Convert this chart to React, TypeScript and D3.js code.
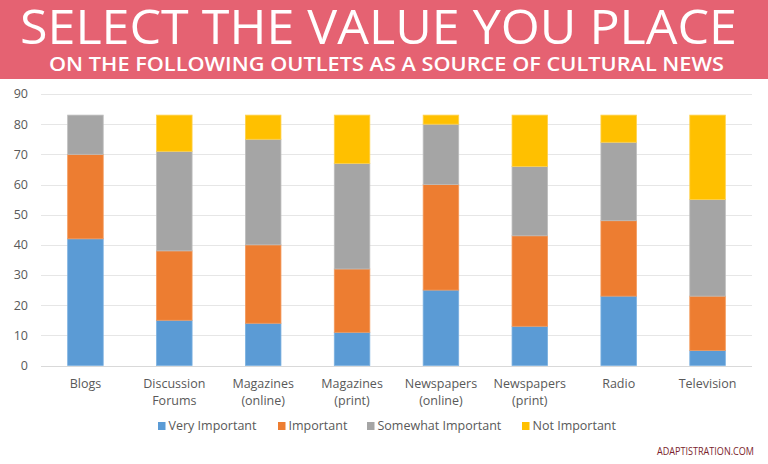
import React from "react";
import * as d3 from "d3";

const categories: string[][] = [
  ["Blogs"],
  ["Discussion", "Forums"],
  ["Magazines", "(online)"],
  ["Magazines", "(print)"],
  ["Newspapers", "(online)"],
  ["Newspapers", "(print)"],
  ["Radio"],
  ["Television"],
];
const seriesNames = ["Very Important", "Important", "Somewhat Important", "Not Important"];
const veryImportant = [42, 15, 14, 11, 25, 13, 23, 5];
const important = [28, 23, 26, 21, 35, 30, 25, 18];
const somewhatImportant = [13, 33, 35, 35, 20, 23, 26, 32];
const notImportant = [0, 12, 8, 16, 3, 17, 9, 28];
const yTicks = [0, 10, 20, 30, 40, 50, 60, 70, 80, 90];
const titleText = "SELECT THE VALUE YOU PLACE";
const subtitleText = "ON THE FOLLOWING OUTLETS AS A SOURCE OF CULTURAL NEWS";
const watermark = "ADAPTISTRATION.COM";

const colors = ["#5b9bd5", "#ed7d31", "#a5a5a5", "#ffc000"];
const edgeColors = ["#7cb1e0", "#f39a5c", "#bdbdbd", "#ffd24d"];
const W = 768;
const H = 464;
const font = "'Open Sans', 'Noto Sans', sans-serif";
const textGray = "#595959";

export default function App() {
  const keys = ["v", "i", "s", "n"];
  const rows = categories.map((c, i) => ({
    key: c.join(" "),
    v: veryImportant[i],
    i: important[i],
    s: somewhatImportant[i],
    n: notImportant[i],
  }));
  const stack = d3.stack<any>().keys(keys)(rows);

  const x = d3
    .scaleBand<string>()
    .domain(rows.map((r) => r.key))
    .range([41, 752])
    .paddingInner(0.6)
    .paddingOuter(0.3);
  const y = d3.scaleLinear().domain([0, 90]).range([365.5, 94]);

  const legendX = [158, 278, 367, 522];

  return (
    <svg
      width={W}
      height={H}
      style={{ position: "fixed", left: 0, top: 0, display: "block", background: "#fff" }}
    >
      {/* Header band */}
      <rect x={0} y={0} width={W} height={79} fill="#e56272" />
      <text
        x={20}
        y={43.5}
        fill="#fff"
        fontFamily={font}
        fontSize={47.5}
        fontWeight={400}
        textLength={717}
        lengthAdjust="spacingAndGlyphs"
      >
        {titleText}
      </text>
      <text
        x={49}
        y={70.7}
        fill="#fff"
        fontFamily={font}
        fontSize={19.5}
        fontWeight={600}
        textLength={675}
        lengthAdjust="spacingAndGlyphs"
      >
        {subtitleText}
      </text>

      {/* Gridlines */}
      {yTicks.map((t) => (
        <line
          key={t}
          x1={41}
          x2={752}
          y1={Math.round(y(t)) + 0.5}
          y2={Math.round(y(t)) + 0.5}
          stroke={t === 0 ? "#d9d9d9" : "#e6e6e6"}
          strokeWidth={1.2}
        />
      ))}
      {yTicks.map((t) => (
        <text
          key={"l" + t}
          x={28}
          y={y(t)}
          dy="0.35em"
          textAnchor="end"
          fill={textGray}
          fontFamily={font}
          fontSize={12.5}
        >
          {t}
        </text>
      ))}

      {/* Bars */}
      {stack.map((layer, si) => (
        <g key={layer.key}>
          {layer.map((d: any, i: number) => {
            const h = y(d[0]) - y(d[1]);
            if (h <= 0) return null;
            return (
              <rect
                key={i}
                x={x(rows[i].key)!}
                y={y(d[1])}
                width={x.bandwidth()}
                height={h}
                fill={colors[si]}
                stroke={edgeColors[si]}
                strokeWidth={0.8}
              />
            );
          })}
        </g>
      ))}

      {/* X labels */}
      {categories.map((lines, i) => (
        <text
          key={i}
          x={x(rows[i].key)! + x.bandwidth() / 2}
          y={388}
          textAnchor="middle"
          fill={textGray}
          fontFamily={font}
          fontSize={12.5}
        >
          {lines.map((ln, j) => (
            <tspan key={j} x={x(rows[i].key)! + x.bandwidth() / 2} dy={j === 0 ? 0 : 17}>
              {ln}
            </tspan>
          ))}
        </text>
      ))}

      {/* Legend */}
      {seriesNames.map((name, i) => (
        <g key={name}>
          <rect x={legendX[i]} y={422} width={7.5} height={8} fill={colors[i]} />
          <text
            x={legendX[i] + 10.5}
            y={430}
            fill={textGray}
            fontFamily={font}
            fontSize={12.5}
          >
            {name}
          </text>
        </g>
      ))}

      {/* Watermark */}
      <text
        x={657}
        y={455}
        fill="#7a1e2c"
        fontFamily={font}
        fontSize={11}
        textLength={97}
        lengthAdjust="spacingAndGlyphs"
      >
        {watermark}
      </text>
    </svg>
  );
}
